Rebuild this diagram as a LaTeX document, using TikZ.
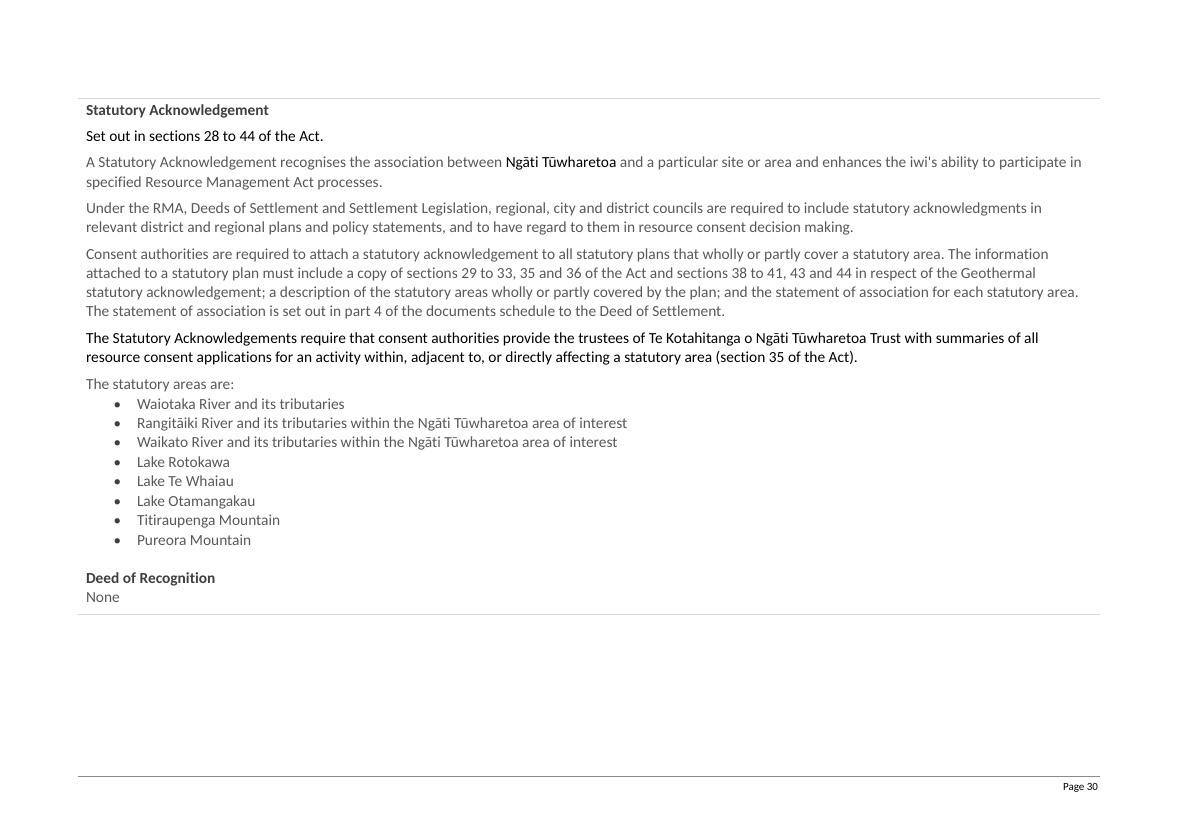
\documentclass[tikz,border=0pt]{standalone}
\usepackage{fontspec}
\defaultfontfeatures[\rmfamily]{}
\setmainfont{Carlito}[Ligatures=NoCommon]
\definecolor{txtgray}{HTML}{595959}
\definecolor{headgray}{HTML}{404040}
\definecolor{rulelight}{HTML}{D9D9D9}
\definecolor{ruledark}{HTML}{8C8C8C}
\frenchspacing
\begin{document}
\frenchspacing
\begin{tikzpicture}[x=1pt,y=-1pt,
  every node/.style={inner sep=0pt,outer sep=0pt,anchor=base west,font=\fontsize{15.4}{19.5}\selectfont\frenchspacing},
  gr/.style={text=txtgray},
  bk/.style={text=black},
  hd/.style={text=headgray,font=\fontsize{15.4}{19.5}\selectfont\bfseries},
  bul/.style={text=headgray,font=\fontsize{15}{19.5}\selectfont}]
\useasboundingbox[fill=white] (0,0) rectangle (1178,832);
\draw[rulelight,line width=1.2pt] (78,98.5) -- (1100,98.5);
\node[hd] (h1) at (86,115.5) {Statutory Acknowledgement};
\node[bk] (p0) at (86,141.5) {Set out in sections 28 to 44 of the Act.};
\node[gr] (p1a) at (86,167.5) {A Statutory Acknowledgement recognises the association between \textcolor{black}{Ngāti Tūwharetoa} and a particular site or area and enhances the iwi's ability to participate in};
\node[gr] (p1b) at (86,187) {specified Resource Management Act processes.};
\node[gr] (p2a) at (86,213) {Under the RMA, Deeds of Settlement and Settlement Legislation, regional, city and district councils are required to include statutory acknowledgments in};
\node[gr] (p2b) at (86,232) {relevant district and regional plans and policy statements, and to have regard to them in resource consent decision making.};
\node[gr] (p3a) at (86,259) {Consent authorities are required to attach a statutory acknowledgement to all statutory plans that wholly or partly cover a statutory area. The information};
\node[gr] (p3b) at (86,278) {attached to a statutory plan must include a copy of sections 29 to 33, 35 and 36 of the Act and sections 38 to 41, 43 and 44 in respect of the Geothermal};
\node[gr] (p3c) at (86,297) {statutory acknowledgement; a description of the statutory areas wholly or partly covered by the plan; and the statement of association for each statutory area.};
\node[gr] (p3d) at (86,316) {The statement of association is set out in part 4 of the documents schedule to the Deed of Settlement.};
\node[bk] (p4a) at (86,343) {The Statutory Acknowledgements require that consent authorities provide the trustees of Te Kotahitanga o Ngāti Tūwharetoa Trust with summaries of all};
\node[bk] (p4b) at (86,362) {resource consent applications for an activity within, adjacent to, or directly affecting a statutory area (section 35 of the Act).};
\node[gr] (p5) at (86,389) {The statutory areas are:};
\foreach \t [count=\i] in {Waiotaka River and its tributaries,
  Rangitāiki River and its tributaries within the Ngāti Tūwharetoa area of interest,
  Waikato River and its tributaries within the Ngāti Tūwharetoa area of interest,
  Lake Rotokawa, Lake Te Whaiau, Lake Otamangakau, Titiraupenga Mountain, Pureora Mountain}{
  \pgfmathsetmacro{\yy}{404+5+(\i-1)*19.43}
  \node[bul] (b\i) at (113.5,\yy) {•};
  \node[gr] (l\i) at (137,\yy) {\t};
}
\node[hd] (h2) at (86,583) {Deed of Recognition};
\node[gr] (none) at (86,602) {None};
\draw[rulelight,line width=1.2pt] (78,614.5) -- (1100,614.5);
\draw[ruledark,line width=1.2pt] (78,776.5) -- (1100,776.5);
\node[bk,anchor=base east,font=\fontsize{11}{13}\selectfont] (pg) at (1098,790) {Page 30};
\end{tikzpicture}
\end{document}
